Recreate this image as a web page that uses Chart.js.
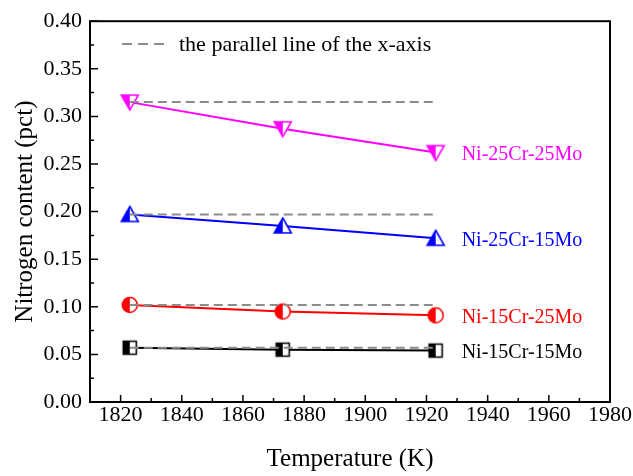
<!DOCTYPE html>
<html>
<head>
<meta charset="utf-8">
<script src="https://cdn.jsdelivr.net/npm/chart.js@4"></script>
<style>
  html, body { margin: 0; padding: 0; background: #fff; }
  #wrap { width: 633px; height: 476px; }
</style>
</head>
<body>
<div id="wrap"><canvas id="nitrogeno"></canvas></div>
<script>
const temperaturas = [1823, 1873, 1923];
const ni25cr25mo = [0.315, 0.287, 0.262];
const ni25cr15mo = [0.197, 0.185, 0.172];
const ni15cr25mo = [0.102, 0.095, 0.091];
const ni15cr15mo = [0.057, 0.055, 0.054];
const ticksX = [1820, 1840, 1860, 1880, 1900, 1920, 1940, 1960, 1980];
const ticksY = [0, 0.05, 0.1, 0.15, 0.2, 0.25, 0.3, 0.35, 0.4];

const fuente = "'Liberation Serif', 'Times New Roman', serif";
const colorGuia = "#8c8c8c";

// half-filled marker drawn on a small canvas, used as pointStyle
function marcador(forma, color) {
    const s = 22, c = s / 2;
    const cv = document.createElement("canvas");
    cv.width = s; cv.height = s;
    const ctx = cv.getContext("2d");
    const trazo = () => {
        ctx.beginPath();
        if (forma === "abajo") {
            ctx.moveTo(c - 8.5, c - 7); ctx.lineTo(c + 8.5, c - 7); ctx.lineTo(c, c + 8); ctx.closePath();
        } else if (forma === "arriba") {
            ctx.moveTo(c, c - 8); ctx.lineTo(c + 8.5, c + 7); ctx.lineTo(c - 8.5, c + 7); ctx.closePath();
        } else if (forma === "circulo") {
            ctx.arc(c, c, 7.5, 0, Math.PI * 2);
        } else {
            ctx.rect(c - 6.5, c - 6.5, 13, 13);
        }
    };
    ctx.fillStyle = "#fff"; trazo(); ctx.fill();
    ctx.save();
    ctx.beginPath(); ctx.rect(0, 0, c, s); ctx.clip();
    ctx.fillStyle = color; trazo(); ctx.fill();
    ctx.restore();
    ctx.lineWidth = 1.6; ctx.strokeStyle = color; trazo(); ctx.stroke();
    return cv;
}

const series = [
    { label: "Ni-25Cr-25Mo", data: ni25cr25mo, color: "#ff00ff", forma: "abajo" },
    { label: "Ni-25Cr-15Mo", data: ni25cr15mo, color: "#0000ff", forma: "arriba" },
    { label: "Ni-15Cr-25Mo", data: ni15cr25mo, color: "#ff0000", forma: "circulo" },
    { label: "Ni-15Cr-15Mo", data: ni15cr15mo, color: "#000000", forma: "cuadro" },
];

// dashed reference lines at the first value of each alloy
const guias = series.map((s) => ({
    label: "guia",
    data: [{ x: temperaturas[0], y: s.data[0] }, { x: temperaturas[2], y: s.data[0] }],
    borderColor: colorGuia,
    borderWidth: 2,
    borderDash: [9, 5],
    pointRadius: 0,
    order: 0,
}));

const lineas = series.map((s) => ({
    label: s.label,
    data: s.data.map((v, i) => ({ x: temperaturas[i], y: v })),
    borderColor: s.color,
    borderWidth: 2,
    pointStyle: marcador(s.forma, s.color),
    pointRadius: 8,
    order: 1,
}));

// frame, inward ticks, alloy labels and legend
const decoracion = {
    id: "decoracion",
    afterDatasetsDraw(chart) {
        const { ctx, chartArea: a, scales } = chart;
        ctx.save();
        ctx.strokeStyle = "#000";
        ctx.lineWidth = 2;
        ctx.strokeRect(a.left, a.top, a.right - a.left, a.bottom - a.top);
        ctx.lineWidth = 1.5;
        ctx.beginPath();
        for (let v = 1820; v <= 1980; v += 10) {
            const x = scales.x.getPixelForValue(v);
            const largo = v % 20 === 0 ? 7 : 4;
            ctx.moveTo(x, a.bottom); ctx.lineTo(x, a.bottom - largo);
        }
        for (let k = 0; k <= 16; k++) {
            const y = scales.y.getPixelForValue(k * 0.025);
            const largo = k % 2 === 0 ? 8 : 4;
            ctx.moveTo(a.left, y); ctx.lineTo(a.left + largo, y);
        }
        ctx.stroke();

        ctx.font = "20px " + fuente;
        ctx.textBaseline = "middle";
        ctx.textAlign = "left";
        series.forEach((s, i) => {
            const p = chart.getDatasetMeta(guias.length + i).data[2];
            ctx.fillStyle = s.color;
            ctx.fillText(s.label, p.x + 26, p.y + 2);
        });

        ctx.strokeStyle = colorGuia;
        ctx.lineWidth = 2;
        ctx.setLineDash([10, 6]);
        ctx.beginPath(); ctx.moveTo(122, 44); ctx.lineTo(165, 44); ctx.stroke();
        ctx.setLineDash([]);
        ctx.font = "22px " + fuente;
        ctx.fillStyle = "#000";
        ctx.fillText("the parallel line of the x-axis", 179, 45);
        ctx.restore();
    },
};

new Chart(document.getElementById("nitrogeno"), {
    type: "line",
    data: { datasets: [...guias, ...lineas] },
    options: {
        responsive: true,
        maintainAspectRatio: false,
        animation: false,
        events: [],
        layout: { padding: { left: 0, top: 16, right: 23, bottom: 0 } },
        scales: {
            x: {
                type: "linear",
                min: 1810,
                max: 1980,
                grid: { display: false, tickLength: 0 },
                border: { display: false },
                afterBuildTicks: (scale) => { scale.ticks = ticksX.map((v) => ({ value: v })); },
                afterFit: (scale) => { scale.height = 74; },
                ticks: {
                    font: { family: fuente, size: 22 },
                    color: "#000",
                    padding: 0,
                    maxRotation: 0,
                    autoSkip: false,
                    callback: (v) => String(v),
                },
                title: {
                    display: true,
                    text: "Temperature (K)",
                    font: { family: fuente, size: 25 },
                    color: "#000",
                    padding: { bottom: 2 },
                },
            },
            y: {
                min: 0,
                max: 0.4,
                grid: { display: false, tickLength: 0 },
                border: { display: false },
                afterBuildTicks: (scale) => { scale.ticks = ticksY.map((v) => ({ value: v })); },
                afterFit: (scale) => { scale.width = 90; },
                ticks: {
                    font: { family: fuente, size: 22 },
                    color: "#000",
                    padding: 8,
                    callback: (v) => v.toFixed(2),
                },
                title: {
                    display: true,
                    text: "Nitrogen content (pct)",
                    font: { family: fuente, size: 25 },
                    color: "#000",
                    padding: { top: 10 },
                },
            },
        },
        plugins: {
            legend: { display: false },
            tooltip: { enabled: false },
        },
    },
    plugins: [decoracion],
});
</script>
</body>
</html>
